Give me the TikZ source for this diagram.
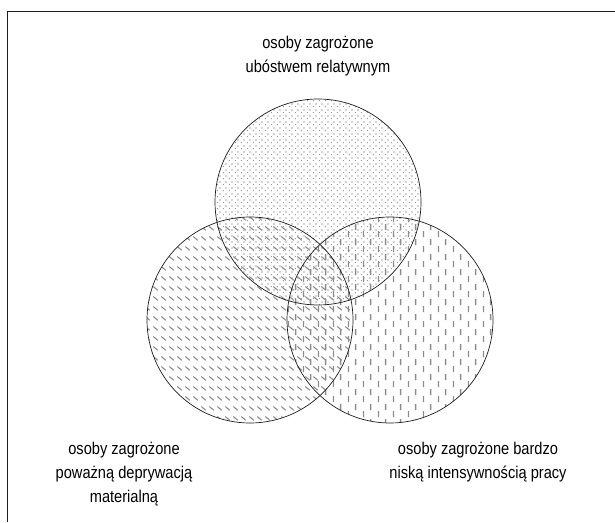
\documentclass[tikz,border=0pt]{standalone}
\usepackage{fontspec}
\setmainfont{Liberation Sans}[FakeStretch=0.86]
\usepackage{tikz}
\usetikzlibrary{patterns.meta,positioning}
\definecolor{ink}{RGB}{30,30,30}
\definecolor{dotgray}{RGB}{155,155,155}
\definecolor{dashgray}{RGB}{140,140,140}
% fill patterns of the three sets
\pgfdeclarepattern{
  name=finedots,
  type=uncolored,
  bottom left={\pgfpoint{0pt}{0pt}},
  top right={\pgfpoint{6pt}{6pt}},
  tile size={\pgfpoint{6pt}{6pt}},
  code={
    \pgfpathrectangle{\pgfpoint{0.9pt}{0.9pt}}{\pgfpoint{1.4pt}{1.4pt}}
    \pgfpathrectangle{\pgfpoint{3.9pt}{3.9pt}}{\pgfpoint{1.4pt}{1.4pt}}
    \pgfusepath{fill}
  }
}
\pgfdeclarepattern{
  name=slashrows,
  type=uncolored,
  bottom left={\pgfpoint{0pt}{0pt}},
  top right={\pgfpoint{8pt}{10pt}},
  tile size={\pgfpoint{8pt}{10pt}},
  code={
    \pgfsetlinewidth{1.2pt}
    \pgfpathmoveto{\pgfpoint{1.5pt}{7pt}}
    \pgfpathlineto{\pgfpoint{6.5pt}{3pt}}
    \pgfusepath{stroke}
  }
}
\pgfdeclarepattern{
  name=vdashes,
  type=uncolored,
  bottom left={\pgfpoint{0pt}{0pt}},
  top right={\pgfpoint{15pt}{15pt}},
  tile size={\pgfpoint{15pt}{15pt}},
  code={
    \pgfsetlinewidth{1.5pt}
    \pgfpathmoveto{\pgfpoint{3.75pt}{0.8pt}}
    \pgfpathlineto{\pgfpoint{3.75pt}{7.2pt}}
    \pgfpathmoveto{\pgfpoint{11.25pt}{8.3pt}}
    \pgfpathlineto{\pgfpoint{11.25pt}{14.7pt}}
    \pgfusepath{stroke}
  }
}
\tikzset{
  venn/.style={circle,minimum size=206pt,inner sep=0pt},
  rim/.style={venn,draw=ink,line width=0.7pt},
  setlbl/.style={align=center,font=\fontsize{17}{24}\selectfont,text=black},
  frame/.style={draw=ink,line width=1pt},
}

\begin{document}
\begin{tikzpicture}[x=1pt,y=1pt]
\useasboundingbox (0,0) rectangle (615,522);
% open frame
\coordinate (fbot) at (7,0);
\coordinate (fcorner) at (7,510);
\coordinate (fright) at (615,510);
\draw[frame] (fbot) -- (fcorner) -- (fright);
% pattern fills
\node[venn,pattern={finedots},pattern color=dotgray] (pov) at (318,320) {};
\node[venn,pattern={slashrows},pattern color=dashgray] (dep) at (250,202) {};
\node[venn,pattern={vdashes},pattern color=dashgray] (work) at (390,202) {};
% outlines
\node[rim] at (pov) {};
\node[rim] at (dep) {};
\node[rim] at (work) {};
% labels
\node[setlbl] (povlbl) at (318,466) {osoby zagrożone\\ubóstwem relatywnym};
\node[setlbl] (deplbl) at (124,48) {osoby zagrożone\\poważną deprywacją\\materialną};
\node[setlbl] (worklbl) at (478,60) {osoby zagrożone bardzo\\niską intensywnością pracy};
\end{tikzpicture}
\end{document}
